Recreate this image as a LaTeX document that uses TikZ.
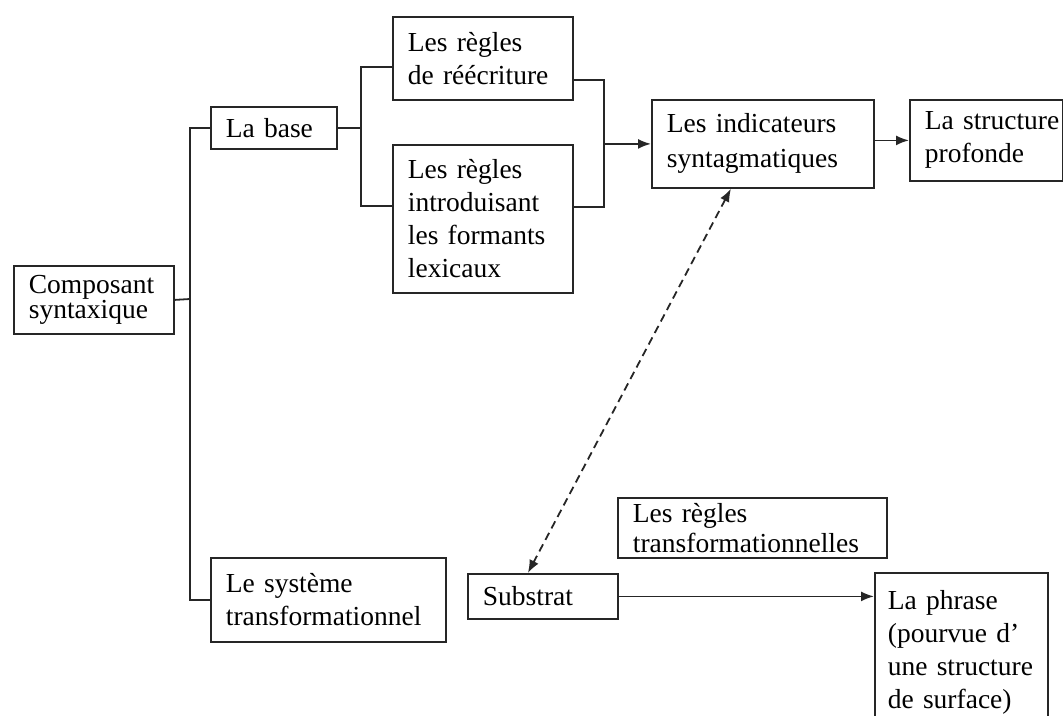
\documentclass[tikz,border=0pt]{standalone}
\usepackage{fontspec}
\setmainfont{Liberation Serif}
\usetikzlibrary{arrows.meta,calc}
\begin{document}
\begin{tikzpicture}[x=1pt,y=-1pt,
  box/.style={draw=black!85, line width=1.8pt, anchor=north west, align=left,
    inner xsep=15pt, inner ysep=2pt, font=\fontsize{27.5}{33}\selectfont,
    execute at begin node={\hyphenpenalty=10000 }},
  conn/.style={draw=black!85, line width=1.8pt},
  arr/.style={conn, -{Latex[length=13pt,width=10pt]}},
  darr/.style={conn, dash pattern=on 8pt off 5pt, {Latex[length=13pt,width=10pt]}-{Latex[length=13pt,width=10pt]}}]
\clip (0,0) rectangle (1063,715);
% boxes
\node[box, text width=130pt, minimum width=160pt, minimum height=68pt,
  font=\fontsize{27.5}{23}\selectfont] (comp) at (13,265) {Composant\\syntaxique};
\node[box, text width=96pt, minimum width=126pt, minimum height=42pt] (base) at (210,106) {La base};
\node[box, text width=150pt, minimum width=180pt, minimum height=83pt] (r1) at (392,16) {Les règles\\de réécriture};
\node[box, text width=150pt, minimum width=180pt, minimum height=148pt] (r2) at (392,144) {Les règles\\introduisant\\les formants\\lexicaux};
\node[box, text width=192pt, minimum width=222pt, minimum height=88pt,
  font=\fontsize{27.5}{35}\selectfont] (indic) at (651,99) {Les indicateurs\\syntagmatiques};
\node[box, text width=139pt, inner xsep=7pt, minimum width=153pt, minimum height=81pt] (struct) at (909,99) {\makebox[139pt][l]{\hspace{8pt}La structure}\\\hspace*{8pt}profonde};
\node[box, text width=239pt, minimum width=269pt, minimum height=60pt,
  font=\fontsize{27.5}{30}\selectfont] (trans) at (617,497) {Les règles\\transformationnelles};
\node[box, text width=205pt, minimum width=235pt, minimum height=84pt] (sys) at (210,557) {Le système\\transformationnel};
\node[box, text width=120pt, minimum width=150pt, minimum height=45pt] (sub) at (467,573) {Substrat};
\node[box, text width=147pt, inner xsep=13pt, minimum width=173pt, minimum height=158pt] (phrase) at (874,572) {La phrase\\(pourvue d’\\une structure\\de surface)};
% junctions
\coordinate (jc) at (190,299);
\coordinate (jb) at (361,67);
\coordinate (jb2) at (361,206);
\coordinate (jr) at (604,80);
\coordinate (jr2) at (604,207);
% connectors
\draw[conn] (comp.east) -- (jc);
\draw[conn] (base.west) -| (jc) |- (sys.west);
\draw[conn] (base.east) -- (base.east -| jb);
\draw[conn] (r1.west |- jb) -- (jb) -- (jb2) -- (r2.west |- jb2);
\draw[conn] (r1.east |- jr) -- (jr) -- (jr2) -- (r2.east |- jr2);
\draw[arr] (jr |- indic.west) -- (indic.west);
\draw[arr] (indic.east |- struct.west) -- (struct.west);
\draw[darr] ([xshift=-32pt]indic.south) -- ([xshift=-15pt]sub.north);
\draw[arr] (sub.east) -- (phrase.west |- sub.east);
\end{tikzpicture}
\end{document}
